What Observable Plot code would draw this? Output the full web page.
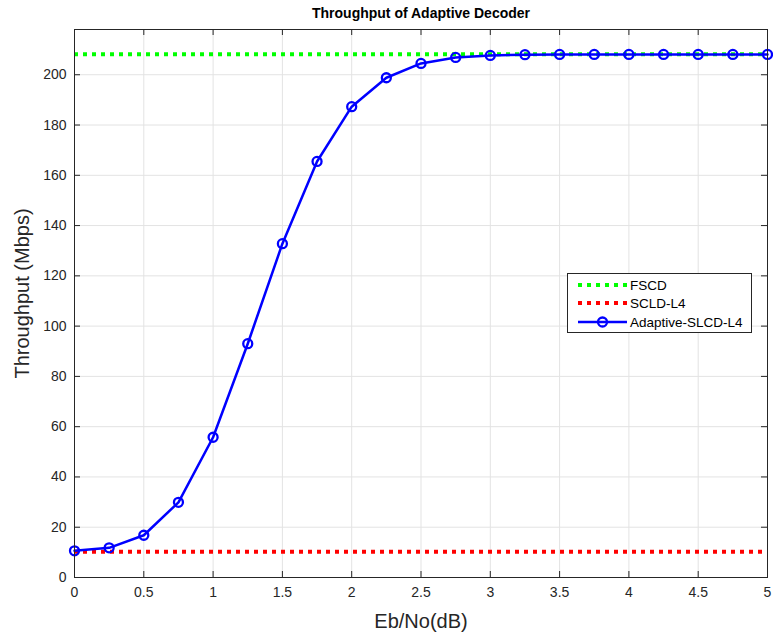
<!DOCTYPE html>
<html><head><meta charset="utf-8">
<script src="https://cdn.jsdelivr.net/npm/d3@7"></script>
<script src="https://cdn.jsdelivr.net/npm/@observablehq/plot@0.6"></script>
<style>
body{margin:0;background:#fff;font-family:"Liberation Sans",Arial,Helvetica,sans-serif;}
#wrap{position:relative;width:773px;height:637px;}
#legend{position:absolute;left:567px;top:273px;}
</style>
</head><body>
<div id="wrap"><div id="chart"></div><svg id="legend" width="186" height="61"></svg></div>
<script>
const ebno = [0,0.25,0.5,0.75,1,1.25,1.5,1.75,2,2.25,2.5,2.75,3,3.25,3.5,3.75,4,4.25,4.5,4.75,5];
const adaptive = [10.6,11.8,16.8,29.9,55.8,93.0,132.8,165.5,187.3,198.8,204.5,206.9,207.7,208.0,208.1,208.1,208.1,208.1,208.1,208.1,208.1];
const fscd = 208.2;
const scld = 10.2;
const xTicks = [0,0.5,1,1.5,2,2.5,3,3.5,4,4.5,5];
const yTicks = [0,20,40,60,80,100,120,140,160,180,200];
const xDomain = [0,5];
const yDomain = [0,218];
const seriesNames = ["FSCD","SCLD-L4","Adaptive-SLCD-L4"];
const seriesColors = ["#00ff00","#ff0000","#0000ff"];
const title = "Throughput of Adaptive Decoder";
const xLabel = "Eb/No(dB)";
const yLabel = "Throughput (Mbps)";

const data = ebno.map((x,i)=>({x, y: adaptive[i]}));
const W = 773, H = 637, mL = 74, mR = 6, mT = 29, mB = 60;
const fw = W - mL - mR, fh = H - mT - mB;
const axisColor = "#262626";

const plot = Plot.plot({
  width: W, height: H,
  marginLeft: mL, marginRight: mR, marginTop: mT, marginBottom: mB,
  style: {fontFamily: '"Liberation Sans",Arial,sans-serif', background: "#fff", overflow: "visible"},
  x: {domain: xDomain},
  y: {domain: yDomain},
  marks: [
    Plot.gridX(xTicks, {stroke: "#e3e3e3", strokeOpacity: 1}),
    Plot.gridY(yTicks, {stroke: "#e3e3e3", strokeOpacity: 1}),
    Plot.ruleY([fscd], {stroke: seriesColors[0], strokeWidth: 4, strokeDasharray: "4,5"}),
    Plot.ruleY([scld], {stroke: seriesColors[1], strokeWidth: 4, strokeDasharray: "4,5"}),
    Plot.line(data, {x: "x", y: "y", stroke: seriesColors[2], strokeWidth: 2.5}),
    Plot.dot(data, {x: "x", y: "y", r: 4.5, stroke: seriesColors[2], strokeWidth: 2.3, fill: "none"}),
    Plot.frame({stroke: axisColor, strokeWidth: 1}),
    Plot.tickX(xTicks, {x: d => d, insetTop: fh - 6, stroke: axisColor}),
    Plot.tickX(xTicks, {x: d => d, insetBottom: fh - 6, stroke: axisColor}),
    Plot.tickY(yTicks, {y: d => d, insetRight: fw - 6, stroke: axisColor}),
    Plot.tickY(yTicks, {y: d => d, insetLeft: fw - 6, stroke: axisColor}),
    Plot.axisX(xTicks, {tickSize: 0, tickPadding: 10, label: null, fontSize: 14, fill: axisColor, tickFormat: d => String(d)}),
    Plot.axisY(yTicks, {tickSize: 0, tickPadding: 8, label: null, fontSize: 14, fill: axisColor, tickFormat: d => String(d)}),
    Plot.text([title], {frameAnchor: "top", lineAnchor: "middle", dy: -16, fontWeight: "bold", fontSize: 14, fill: "#000"}),
    Plot.text([xLabel], {frameAnchor: "bottom", lineAnchor: "middle", dy: 44, fontSize: 20, fill: axisColor}),
    Plot.text([yLabel], {frameAnchor: "left", textAnchor: "middle", lineAnchor: "middle", dx: -52, dy: -10, rotate: -90, fontSize: 20, fill: axisColor})
  ]
});
document.getElementById("chart").appendChild(plot);

// legend
const lg = d3.select("#legend");
lg.append("rect").attr("x",0.5).attr("y",0.5).attr("width",184).attr("height",59)
  .attr("fill","#fff").attr("stroke",axisColor);
const rows = [12, 30, 49];
seriesNames.forEach((name,i)=>{
  const y = rows[i];
  const ln = lg.append("line").attr("x1",11).attr("x2",60).attr("y1",y).attr("y2",y)
    .attr("stroke",seriesColors[i]).attr("stroke-width", i<2 ? 4 : 2.5);
  if (i<2) ln.attr("stroke-dasharray","4,5");
  else lg.append("circle").attr("cx",35.5).attr("cy",y).attr("r",4.5)
    .attr("fill","none").attr("stroke",seriesColors[i]).attr("stroke-width",2.3);
  lg.append("text").attr("x",63).attr("y",y).attr("dy","0.35em")
    .attr("font-size",13.5).attr("fill","#000").text(name);
});
</script>
</body></html>
